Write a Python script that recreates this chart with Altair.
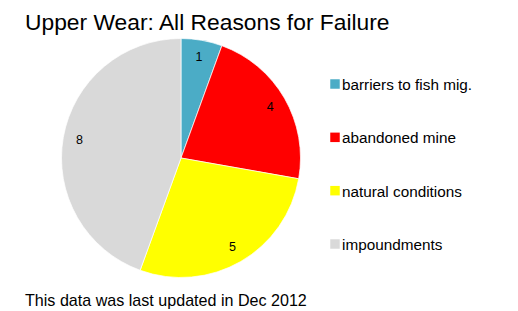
import altair as alt
import pandas as pd

# ---- data ----
categories = ["barriers to fish mig.", "abandoned mine", "natural conditions", "impoundments"]
values = [1, 4, 5, 8]
colors = ["#4BACC6", "#FF0000", "#FFFF00", "#D9D9D9"]
title_text = "Upper Wear: All Reasons for Failure"
footer_text = "This data was last updated in Dec 2012"

df = pd.DataFrame({"category": categories, "value": values, "idx": list(range(len(values)))})

FONT = "Liberation Sans"
CX, CY = 173, 150
color_scale = alt.Scale(domain=categories, range=colors)
legend_y = alt.Y("category:N",
                 scale=alt.Scale(type="point", domain=categories, range=[76, 236], padding=0),
                 axis=None)

base = alt.Chart(df)

pie = base.mark_arc(radius=119.5, stroke="white", strokeWidth=0.7).encode(
    theta=alt.Theta("value:Q", stack=True),
    color=alt.Color("category:N", scale=color_scale, legend=None),
    order=alt.Order("idx:Q"),
    x=alt.value(CX),
    y=alt.value(CY),
)

pie_labels = base.mark_text(radius=103, fontSize=12.5, font=FONT, color="#000000").encode(
    theta=alt.Theta("value:Q", stack=True),
    order=alt.Order("idx:Q"),
    text=alt.Text("value:Q"),
    x=alt.value(CX),
    y=alt.value(CY),
)

leg_sym = base.mark_square(size=90, opacity=1).encode(
    x=alt.value(327),
    y=legend_y,
    color=alt.Color("category:N", scale=color_scale, legend=None),
)

leg_txt = base.mark_text(align="left", baseline="alphabetic", dy=6, fontSize=15.3,
                         font=FONT, color="#000000").encode(
    x=alt.value(334),
    y=legend_y,
    text="category:N",
)

title = alt.Chart(pd.DataFrame({"t": [title_text]})).mark_text(
    align="left", baseline="alphabetic", fontSize=22.8, font=FONT, color="#000000"
).encode(x=alt.value(17), y=alt.value(21.5), text="t:N")

footer = alt.Chart(pd.DataFrame({"t": [footer_text]})).mark_text(
    align="left", baseline="alphabetic", fontSize=16.1, font=FONT, color="#000000"
).encode(x=alt.value(17), y=alt.value(297.5), text="t:N")

chart = alt.layer(pie, pie_labels, leg_sym, leg_txt, title, footer).properties(
    width=502,
    height=303,
    autosize=alt.AutoSizeParams(type="none"),
    padding=0,
    background="white",
).configure_view(stroke=None)

chart.save("out.html", embed_options={"renderer": "svg", "actions": False})
